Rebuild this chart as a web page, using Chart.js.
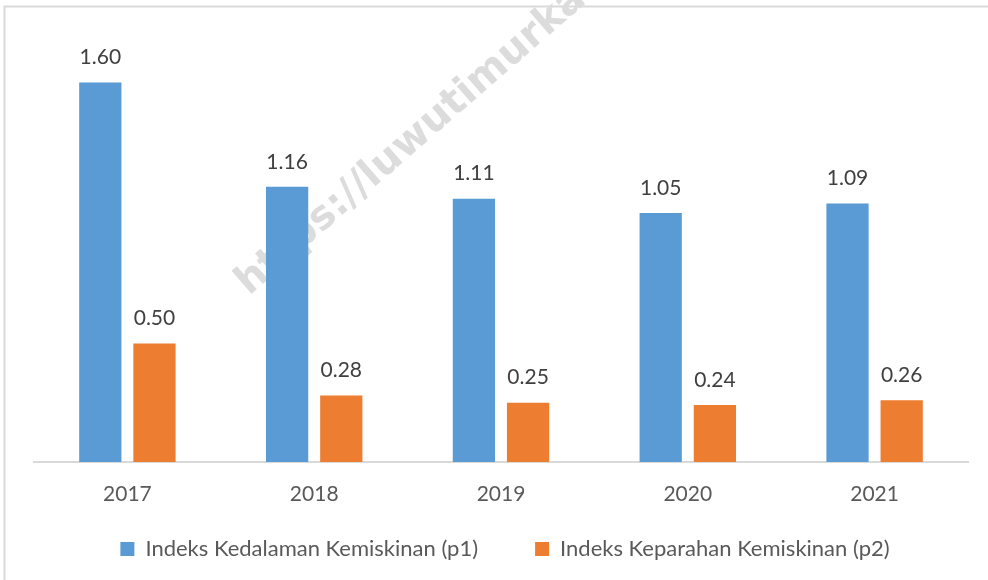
<!DOCTYPE html>
<html>
<head>
<meta charset="utf-8">
<script src="https://cdn.jsdelivr.net/npm/chart.js@4.4.1/dist/chart.umd.min.js"></script>
<style>
  body { margin: 0; background: #fff; }
  canvas { display: block; }
</style>
</head>
<body>
<canvas id="chart" width="988" height="580"></canvas>
<script>
var years = ["2017", "2018", "2019", "2020", "2021"];
var p1 = [1.60, 1.16, 1.11, 1.05, 1.09];
var p2 = [0.50, 0.28, 0.25, 0.24, 0.26];
var seriesNames = ["Indeks Kedalaman Kemiskinan (p1)", "Indeks Keparahan Kemiskinan (p2)"];

var FONT = "Lato, 'Open Sans', sans-serif";

// frame round the chart (only top and left edge are visible)
var frame = {
  id: 'frame',
  beforeDraw: function(chart) {
    var c = chart.ctx;
    c.save();
    c.strokeStyle = '#d9d9d9';
    c.lineWidth = 2;
    c.beginPath();
    c.moveTo(4.5, 580);
    c.lineTo(4.5, 6.5);
    c.lineTo(988, 6.5);
    c.stroke();
    c.restore();
  }
};

// faint watermark behind the bars
var watermark = {
  id: 'watermark',
  beforeDatasetsDraw: function(chart) {
    var c = chart.ctx;
    c.save();
    c.translate(249, 296);
    c.rotate(-41 * Math.PI / 180);
    c.font = "bold 40px 'DejaVu Sans', sans-serif";
    c.fillStyle = '#dcdcdc';
    c.textBaseline = 'alphabetic';
    c.fillText("https://luwutimurkab.bps.go.id", 0, 0);
    c.restore();
  }
};

// value labels above each bar
var valueLabels = {
  id: 'valueLabels',
  afterDatasetsDraw: function(chart) {
    var c = chart.ctx;
    c.save();
    c.font = "21px " + FONT;
    c.fillStyle = '#404040';
    c.textAlign = 'center';
    c.textBaseline = 'middle';
    chart.data.datasets.forEach(function(ds, i) {
      chart.getDatasetMeta(i).data.forEach(function(bar, j) {
        c.fillText(ds.data[j].toFixed(2), bar.x, bar.y - 25);
      });
    });
    c.restore();
  }
};

// legend: wide gap between items but sitting closer to the axis labels
var legendShift = {
  id: 'legendShift',
  afterInit: function(chart) {
    var lg = chart.legend;
    var fit = lg.fit;
    lg.fit = function() {
      fit.call(this);
      this.height -= 17;
    };
  },
  afterLayout: function(chart) {
    var lg = chart.legend;
    lg.top -= 27;
    lg.left += 4; lg.right += 4;
  }
};

new Chart(document.getElementById("chart"), {
  type: 'bar',
  data: {
    labels: years,
    datasets: [{
      label: seriesNames[0],
      data: p1,
      backgroundColor: '#5b9bd5',
      borderWidth: 0,
      barPercentage: 0.78,
      categoryPercentage: 0.58
    }, {
      label: seriesNames[1],
      data: p2,
      backgroundColor: '#ed7d31',
      borderWidth: 0,
      barPercentage: 0.78,
      categoryPercentage: 0.58
    }]
  },
  options: {
    responsive: false,
    animation: false,
    layout: { padding: { left: 34, right: 20, top: 35, bottom: 0 } },
    scales: {
      x: {
        grid: { display: false, drawTicks: false },
        border: { display: true, color: '#d9d9d9', width: 2 },
        ticks: { color: '#595959', font: { family: FONT, size: 21 }, padding: 20 },
        afterFit: function(scale) { scale.height = 46; }
      },
      y: {
        display: false,
        min: 0,
        max: 1.8
      }
    },
    plugins: {
      legend: {
        position: 'bottom',
        labels: {
          boxWidth: 14,
          boxHeight: 14,
          padding: 57,
          color: '#595959',
          font: { family: FONT, size: 22 }
        }
      },
      tooltip: { enabled: false }
    }
  },
  plugins: [frame, watermark, valueLabels, legendShift]
});
</script>
</body>
</html>
